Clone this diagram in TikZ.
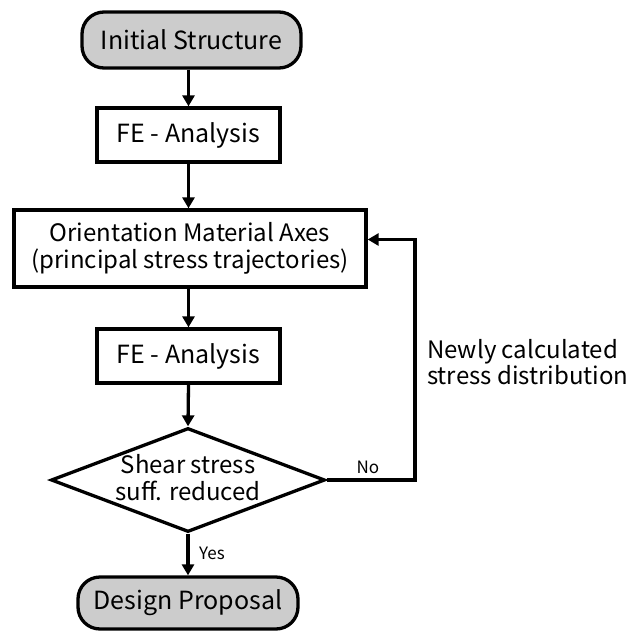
\documentclass[tikz,border=0pt]{standalone}
\usepackage{fontspec}
\setmainfont{Noto Sans CJK SC}
\usetikzlibrary{shapes.geometric,arrows.meta}
\begin{document}
\begin{tikzpicture}[x=1pt,y=-1pt,
  lw/.style={line width=3.3pt},
  term/.style={draw,lw,fill=black!20,rounded corners=22pt,minimum width=219pt,minimum height=56pt,font=\fontsize{25}{28}\selectfont,inner sep=0pt},
  proc/.style={draw,lw,fill=white,minimum width=183pt,minimum height=54pt,font=\fontsize{25}{28}\selectfont,inner sep=0pt},
  arr/.style={lw,-{Triangle[length=11pt,width=12pt]}},
  lbl/.style={font=\fontsize{17}{20}\selectfont,inner sep=0pt}]
\useasboundingbox (0,0) rectangle (630,633);
\node[term] (init) at (191.5,40) {Initial Structure};
\node[proc] (fe1) at (188.5,135) {FE - Analysis};
\node[proc,minimum width=352pt,minimum height=77pt,align=center,font=\fontsize{24}{27}\selectfont] (orient) at (190,248.5) {Orientation Material Axes\\(principal stress trajectories)};
\node[proc] (fe2) at (188.5,356) {FE - Analysis};
\node[draw,lw,diamond,minimum width=274pt,minimum height=104pt,inner sep=0pt] (dec) at (188,480) {};
\node[align=center,font=\fontsize{24}{27}\selectfont,inner sep=0pt] (dectext) at (188,478) {Shear stress\\suff. reduced};
\node[term,minimum width=220pt,minimum height=52pt] (dp) at (188,603) {Design Proposal};
\node[align=left,anchor=west,font=\fontsize{24}{26}\selectfont,inner sep=0pt] (note) at (427,362) {Newly calculated\\stress distribution};
\draw[arr] (init.south -| fe1.north) -- (fe1.north);
\draw[arr] (fe1.south) -- (fe1.south |- orient.north);
\draw[arr] (orient.south -| fe2.north) -- (fe2.north);
\draw[arr] (fe2.south) -- (dec.north);
\coordinate (corner) at (415,480);
\coordinate (entry) at ([yshift=9pt]orient.east);
\draw[arr] (dec.east) -- (corner) |- (entry);
\node[lbl] (no) at (368,467) {No};
\draw[arr] (dec.south) -- (dp.north);
\node[lbl,anchor=west] (yes) at (199,553) {Yes};
\end{tikzpicture}
\end{document}
